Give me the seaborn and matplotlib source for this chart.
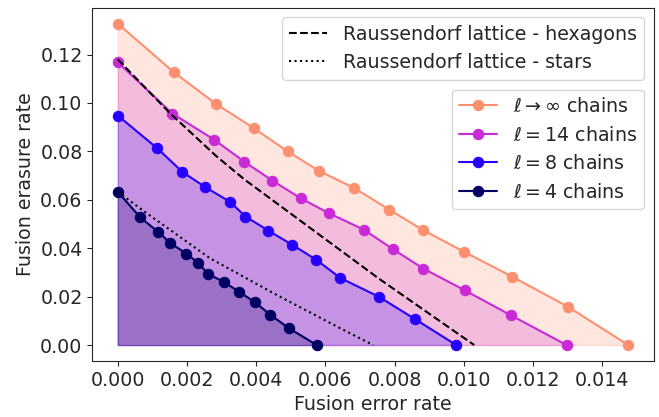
import numpy as np
import pandas as pd
import matplotlib
matplotlib.use("Agg")
import matplotlib.pyplot as plt
import seaborn as sns

# ========================
# Data
# ========================
err_inf = [0, 0.00162, 0.00283, 0.00394, 0.00491, 0.00582, 0.00683, 0.00785, 0.00881, 0.01001, 0.01139, 0.01300, 0.01475]
era_inf = [0.1328, 0.1127, 0.0997, 0.0895, 0.0800, 0.0719, 0.0649, 0.0559, 0.0476, 0.0385, 0.0283, 0.0159, 0.0]

err_14 = [0, 0.00158, 0.00278, 0.00365, 0.00447, 0.00529, 0.00611, 0.00712, 0.00794, 0.00883, 0.01003, 0.01136, 0.01297]
era_14 = [0.1168, 0.0956, 0.0849, 0.0758, 0.0679, 0.0606, 0.0544, 0.0476, 0.0397, 0.0316, 0.0226, 0.0123, 0.0]

err_8 = [0, 0.00114, 0.00186, 0.00252, 0.00324, 0.00369, 0.00435, 0.00503, 0.00574, 0.00643, 0.00754, 0.00858, 0.00978]
era_8 = [0.0948, 0.0813, 0.0716, 0.0653, 0.0592, 0.0531, 0.0473, 0.0415, 0.0352, 0.0277, 0.0200, 0.0108, 0.0]

err_4 = [0, 0.00065, 0.00117, 0.00152, 0.00198, 0.00231, 0.00261, 0.00306, 0.00350, 0.00396, 0.00441, 0.00495, 0.00575]
era_4 = [0.0633, 0.0527, 0.0467, 0.0421, 0.0378, 0.0341, 0.0294, 0.0261, 0.0221, 0.0177, 0.0125, 0.0069, 0.0]

hex_err = [0, 0.0015, 0.00285, 0.00367, 0.00753, 0.0103]
hex_era = [0.118, 0.0959, 0.078, 0.0683, 0.0276, 0.0]

star_err = [0, 0.00083, 0.00266, 0.00459, 0.00653, 0.00738]
star_era = [0.0633, 0.0545, 0.0359, 0.0207, 0.0062, 0.0]

chain_labels = [r"$\ell \rightarrow \infty$ chains", r"$\ell = 14$ chains",
                r"$\ell = 8$ chains", r"$\ell = 4$ chains"]

# ========================
# Plot
# ========================
sns.set_style("ticks")
plt.rcParams["font.family"] = ["DejaVu Sans"]
plt.rcParams["font.size"] = 13.7

cmap = plt.get_cmap("gnuplot2")
colors = [cmap(0.7), cmap(0.5), cmap(0.3), cmap(0.1)]

fig, ax = plt.subplots(figsize=(6.59, 4.17), dpi=100)
fig.subplots_adjust(left=0.14, right=0.992, top=0.982, bottom=0.134)

series = [(err_inf, era_inf), (err_14, era_14), (err_8, era_8), (err_4, era_4)]
chain_handles = []
for (xs, ys), lab, c in zip(series, chain_labels, colors):
    df = pd.DataFrame({"err": xs, "era": ys})
    ax.fill_between(df["err"], df["era"], 0, color=c, alpha=0.22)
    sns.lineplot(data=df, x="err", y="era", ax=ax, color=c, marker="o",
                 markersize=7.5, markeredgecolor=c, linewidth=1.5, label=lab)
    chain_handles.append(ax.lines[-1])

hex_line, = ax.plot(hex_err, hex_era, color="black", linestyle="--", linewidth=1.5, zorder=5,
                    label="Raussendorf lattice - hexagons")
star_line, = ax.plot(star_err, star_era, color="black", linestyle=":", linewidth=1.5, zorder=5,
                     label="Raussendorf lattice - stars")

leg1 = ax.legend(handles=[hex_line, star_line], loc="upper right")
ax.add_artist(leg1)
ax.legend(handles=chain_handles, labels=chain_labels, loc="upper right",
          bbox_to_anchor=(1, 0.795))

ax.set_xticks(np.arange(0, 0.0141, 0.002))
ax.set_xlabel("Fusion error rate")
ax.set_ylabel("Fusion erasure rate")

plt.savefig("out.png", dpi=100)
